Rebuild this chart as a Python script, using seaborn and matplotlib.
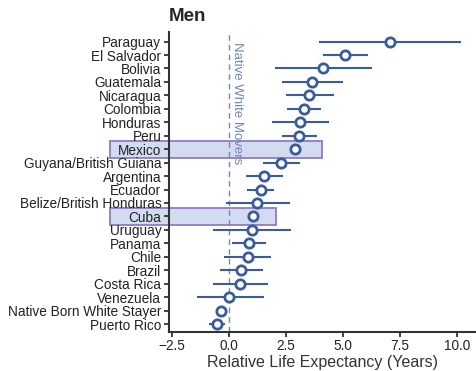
import pandas as pd
import matplotlib.pyplot as plt
import seaborn as sns
from matplotlib.patches import Rectangle

# data
countries = ['Paraguay', 'El Salvador', 'Bolivia', 'Guatemala', 'Nicaragua', 'Colombia',
             'Honduras', 'Peru', 'Mexico', 'Guyana/British Guiana', 'Argentina', 'Ecuador',
             'Belize/British Honduras', 'Cuba', 'Uruguay', 'Panama', 'Chile', 'Brazil',
             'Costa Rica', 'Venezuela', 'Native Born White Stayer', 'Puerto Rico']
estimate = [7.06, 5.10, 4.11, 3.63, 3.52, 3.27, 3.11, 3.07, 2.89, 2.30, 1.55, 1.39,
            1.24, 1.04, 1.01, 0.86, 0.82, 0.54, 0.50, 0.02, -0.35, -0.53]
ci_low = [3.95, 4.14, 2.02, 2.31, 2.50, 2.54, 1.87, 2.34, 2.79, 1.51, 0.75, 0.78,
          -0.15, 0.94, -0.70, 0.12, -0.20, -0.39, -0.69, -1.42, -0.45, -0.86]
ci_high = [10.16, 6.11, 6.29, 4.99, 4.62, 4.02, 4.39, 3.85, 2.99, 3.13, 2.38, 1.99,
           2.68, 1.14, 2.73, 1.61, 1.84, 1.48, 1.70, 1.55, -0.25, -0.18]
highlight = ['Mexico', 'Cuba']
highlight_right = [4.07, 2.06]

df = pd.DataFrame({'country': countries, 'est': estimate, 'lo': ci_low, 'hi': ci_high})
df['pos'] = range(len(df))

sns.set_theme(style='ticks')
plt.rcParams['font.family'] = ['Liberation Sans', 'DejaVu Sans']

blue = '#3a5c9a'
fig, ax = plt.subplots(figsize=(4.76, 3.71), dpi=100)
fig.subplots_adjust(left=0.355, right=0.998, top=0.914, bottom=0.106)

# highlight boxes behind the rows (below the tick labels)
for name, right in zip(highlight, highlight_right):
    p = df.loc[df['country'] == name, 'pos'].iloc[0]
    ax.add_patch(Rectangle((-5.22, p - 0.62), right + 5.22, 1.24, facecolor='#d2dbef',
                           edgecolor='#8e7cc3', linewidth=1.3, clip_on=False, zorder=0.2))

ax.axvline(0, color='#7088b8', linestyle=(0, (4, 3)), linewidth=1, zorder=2)
ax.text(0.08, 0.965, 'Native White Movers', rotation=-90, va='top', ha='left',
        color='#6f86b6', fontsize=9.5, transform=ax.get_xaxis_transform())

ax.hlines(df['pos'], df['lo'], df['hi'], color=blue, linewidth=1.5, zorder=3)
sns.scatterplot(data=df, x='est', y='pos', ax=ax, marker='o', s=45, facecolor='white',
                edgecolor=blue, linewidth=2, zorder=4)

ax.set_yticks(df['pos'])
ax.set_yticklabels(df['country'])
ax.set_ylim(len(df) - 1 + 0.57, -0.72)
ax.set_xlim(-2.63, 10.79)
ax.set_xticks([-2.5, 0, 2.5, 5, 7.5, 10])
ax.set_xticklabels(['\u22122.5', '0.0', '2.5', '5.0', '7.5', '10.0'])
ax.tick_params(labelsize=9.8, colors='#222222', length=3.5, width=1.2, pad=2)
ax.set_xlabel('Relative Life Expectancy (Years)', fontsize=11.5, color='#333333', labelpad=1)
ax.set_ylabel('')
ax.set_title('Men', loc='left', fontsize=13.5, fontweight='bold', pad=8)
for s in ['left', 'bottom']:
    ax.spines[s].set_linewidth(1.5)
    ax.spines[s].set_color('#333333')
sns.despine(ax=ax)

plt.savefig('out.png', dpi=100)
